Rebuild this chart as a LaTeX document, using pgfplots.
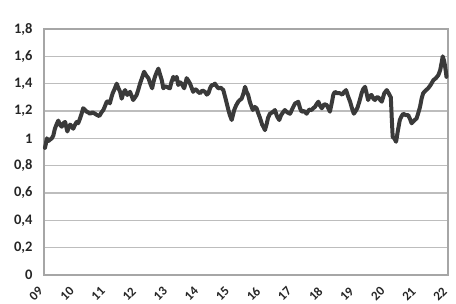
\documentclass[border=0pt]{standalone}
\usepackage{pgfplots}
\pgfplotsset{compat=1.18}
\usepackage{fontspec}
\setmainfont{Carlito}
\definecolor{linegray}{HTML}{3A3A3A}
\definecolor{gridgray}{HTML}{BDBDBD}
\definecolor{framegray}{HTML}{A6A6A6}
\begin{document}
\begin{tikzpicture}[x=1pt,y=1pt]
\path[use as bounding box] (0,0) rectangle (456,304);
\begin{axis}[
  at={(44pt,29pt)}, anchor=south west,
  scale only axis, width=404pt, height=246pt,
  xmin=2009, xmax=2022, ymin=0, ymax=1.8,
  xtick={2009,2010,2011,2012,2013,2014,2015,2016,2017,2018,2019,2020,2021,2022},
  xticklabels={09,10,11,12,13,14,15,16,17,18,19,20,21,22},
  ytick={0,0.2,0.4,0.6,0.8,1,1.2,1.4,1.6,1.8},
  yticklabel style={/pgf/number format/fixed, /pgf/number format/precision=1, /pgf/number format/use comma, xshift=-8pt, font=\fontsize{14.5}{16}\selectfont\bfseries},
  /pgf/number format/assume math mode=true,
  ymajorgrids, grid style={gridgray, line width=1.1pt},
  axis line style={framegray, line width=1.1pt},
  major tick length=0pt,
  tick label style={text=black!85},
  xticklabel style={font=\fontsize{13}{15}\selectfont\bfseries, inner sep=0.5pt, xshift=-8pt, yshift=-19pt, rotate=45, anchor=center},
  clip=false,
]
\addplot[linegray, line width=4pt, line join=round, line cap=round] coordinates {
(2009.03,0.93) (2009.06,0.96) (2009.09,1.00) (2009.14,0.98) (2009.19,0.99) (2009.25,1.00)
(2009.30,1.02) (2009.35,1.07) (2009.40,1.10) (2009.46,1.13) (2009.51,1.10) (2009.57,1.085)
(2009.62,1.11) (2009.68,1.12) (2009.72,1.08) (2009.75,1.05) (2009.80,1.08) (2009.84,1.10)
(2009.89,1.09) (2009.94,1.07) (2010.00,1.10) (2010.05,1.12) (2010.10,1.11) (2010.16,1.146)
(2010.21,1.18) (2010.26,1.22) (2010.31,1.21) (2010.37,1.195) (2010.42,1.19) (2010.48,1.18)
(2010.56,1.19) (2010.64,1.18) (2010.71,1.17) (2010.78,1.163) (2010.85,1.19) (2010.91,1.207)
(2010.97,1.24) (2011.02,1.268) (2011.07,1.27) (2011.12,1.256) (2011.17,1.30) (2011.21,1.33)
(2011.27,1.36) (2011.34,1.40) (2011.39,1.37) (2011.45,1.34) (2011.50,1.29) (2011.55,1.33)
(2011.61,1.353) (2011.68,1.317) (2011.72,1.33) (2011.77,1.34) (2011.82,1.31) (2011.87,1.28)
(2011.93,1.30) (2011.98,1.317) (2012.04,1.36) (2012.09,1.40) (2012.15,1.44) (2012.22,1.487)
(2012.29,1.46) (2012.36,1.44) (2012.42,1.40) (2012.48,1.366) (2012.52,1.41) (2012.57,1.45)
(2012.62,1.48) (2012.68,1.51) (2012.73,1.47) (2012.79,1.426) (2012.84,1.366) (2012.90,1.38)
(2012.95,1.377) (2013.00,1.37) (2013.05,1.366) (2013.10,1.41) (2013.16,1.45) (2013.21,1.43)
(2013.27,1.45) (2013.32,1.39) (2013.38,1.41) (2013.43,1.40) (2013.51,1.366) (2013.55,1.40)
(2013.59,1.44) (2013.65,1.42) (2013.70,1.40) (2013.75,1.37) (2013.80,1.34) (2013.86,1.36)
(2013.91,1.353) (2013.96,1.34) (2014.02,1.33) (2014.10,1.35) (2014.18,1.34) (2014.24,1.32)
(2014.29,1.33) (2014.35,1.37) (2014.40,1.39) (2014.45,1.39) (2014.50,1.40) (2014.56,1.38)
(2014.61,1.366) (2014.69,1.37) (2014.77,1.353) (2014.82,1.31) (2014.88,1.256) (2014.93,1.21)
(2014.98,1.17) (2015.04,1.134) (2015.08,1.17) (2015.12,1.207) (2015.18,1.24) (2015.25,1.268)
(2015.30,1.28) (2015.36,1.29) (2015.42,1.33) (2015.47,1.377) (2015.52,1.34) (2015.57,1.317)
(2015.62,1.27) (2015.68,1.23) (2015.72,1.207) (2015.78,1.23) (2015.84,1.22) (2015.90,1.18)
(2015.95,1.15) (2016.02,1.10) (2016.07,1.08) (2016.11,1.06) (2016.16,1.10) (2016.21,1.15)
(2016.27,1.18) (2016.35,1.19) (2016.43,1.207) (2016.50,1.16) (2016.57,1.134) (2016.63,1.17)
(2016.69,1.19) (2016.75,1.207) (2016.83,1.19) (2016.92,1.18) (2017.00,1.22) (2017.08,1.256)
(2017.13,1.26) (2017.18,1.268) (2017.24,1.22) (2017.29,1.195) (2017.37,1.20) (2017.45,1.18)
(2017.53,1.21) (2017.61,1.207) (2017.66,1.22) (2017.72,1.23) (2017.77,1.25) (2017.83,1.268)
(2017.88,1.24) (2017.94,1.22) (2018.02,1.25) (2018.10,1.243) (2018.15,1.22) (2018.20,1.195)
(2018.27,1.27) (2018.31,1.32) (2018.36,1.34) (2018.44,1.33) (2018.52,1.33) (2018.60,1.32)
(2018.66,1.34) (2018.72,1.353) (2018.78,1.31) (2018.85,1.268) (2018.91,1.22) (2018.97,1.18)
(2019.03,1.20) (2019.08,1.22) (2019.15,1.27) (2019.22,1.33) (2019.27,1.36) (2019.33,1.377)
(2019.38,1.33) (2019.43,1.28) (2019.48,1.31) (2019.54,1.317) (2019.60,1.29) (2019.65,1.28)
(2019.70,1.30) (2019.76,1.30) (2019.82,1.28) (2019.87,1.268) (2019.95,1.33) (2020.03,1.353)
(2020.09,1.33) (2020.16,1.30) (2020.19,1.15) (2020.22,1.01) (2020.27,1.00) (2020.33,0.975)
(2020.39,1.06) (2020.45,1.134) (2020.50,1.16) (2020.56,1.18) (2020.64,1.17) (2020.72,1.17)
(2020.78,1.14) (2020.83,1.11) (2020.91,1.13) (2020.99,1.146) (2021.05,1.19) (2021.10,1.23)
(2021.15,1.29) (2021.20,1.33) (2021.28,1.35) (2021.36,1.366) (2021.44,1.39) (2021.53,1.426)
(2021.61,1.44) (2021.69,1.463) (2021.75,1.50) (2021.80,1.56) (2021.83,1.60) (2021.87,1.57)
(2021.90,1.536) (2021.93,1.49) (2021.95,1.45)
};
\end{axis}
\end{tikzpicture}
\end{document}
